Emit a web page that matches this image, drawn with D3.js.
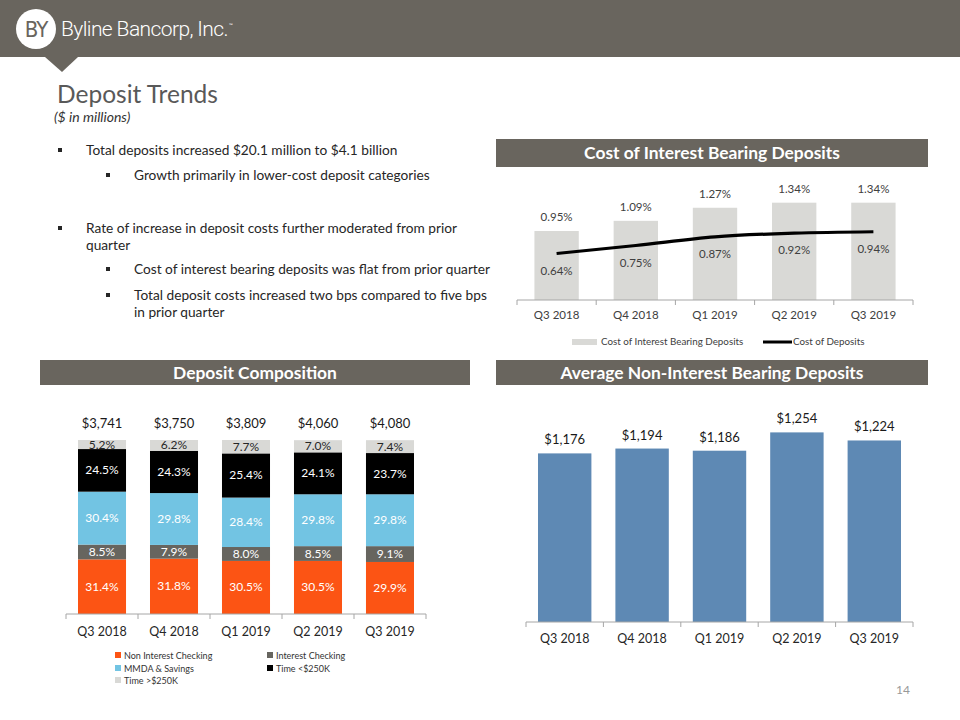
<!DOCTYPE html>
<html><head><meta charset="utf-8">
<script src="https://cdn.jsdelivr.net/npm/d3@7"></script>
<style>
body{margin:0;background:#fff;}
svg{display:block;font-family:Lato,"Open Sans",sans-serif;}
</style></head>
<body>
<svg id="c" width="960" height="720"></svg>
<script>
// ---------- DATA ----------
const quarters = ["Q3 2018","Q4 2018","Q1 2019","Q2 2019","Q3 2019"];
const costIB = [0.95,1.09,1.27,1.34,1.34];
const costDep = [0.64,0.75,0.87,0.92,0.94];
const totals = [3741,3750,3809,4060,4080];
const nonIntChecking = [31.4,31.8,30.5,30.5,29.9];
const intChecking = [8.5,7.9,8.0,8.5,9.1];
const mmda = [30.4,29.8,28.4,29.8,29.8];
const timeLt250 = [24.5,24.3,25.4,24.1,23.7];
const timeGt250 = [5.2,6.2,7.7,7.0,7.4];
const compSeries = ["Non Interest Checking","Interest Checking","MMDA & Savings","Time <$250K","Time >$250K"];
const avgNIB = [1176,1194,1186,1254,1224];
const bullets = [
  {lvl:0, lines:["Total deposits increased $20.1 million to $4.1 billion"]},
  {lvl:1, lines:["Growth primarily in lower-cost deposit categories"]},
  {lvl:0, lines:["Rate of increase in deposit costs further moderated from prior","quarter"]},
  {lvl:1, lines:["Cost of interest bearing deposits was flat from prior quarter"]},
  {lvl:1, lines:["Total deposit costs increased two bps compared to five bps","in prior quarter"]}
];

// ---------- STYLE ----------
const BAND = "#69655e";
const TXT = "#262626";
const svg = d3.select("#c");

// Header
svg.append("rect").attr("x",0).attr("y",0).attr("width",960).attr("height",57).attr("fill",BAND);
svg.append("path").attr("d","M45,57 L78,57 L62,72 Z").attr("fill",BAND);
svg.append("circle").attr("cx",36).attr("cy",29).attr("r",20).attr("fill","#fff");
svg.append("text").attr("x",36).attr("y",37).attr("text-anchor","middle").attr("font-size",22)
  .attr("fill",BAND).attr("font-family","'DejaVu Sans Condensed',sans-serif").attr("letter-spacing",-1).text("BY");
svg.append("text").attr("x",61).attr("y",36).attr("font-size",21).attr("fill","#fff")
  .attr("font-family","Roboto,sans-serif").attr("font-weight",300).attr("letter-spacing",-0.6).text("Byline Bancorp, Inc.");
svg.append("text").attr("x",229).attr("y",27).attr("font-size",5).attr("fill","#fff").text("™");

svg.append("text").attr("x",57).attr("y",103).attr("font-size",24.5).attr("fill","#595959").text("Deposit Trends");
svg.append("text").attr("x",54).attr("y",122).attr("font-size",14).attr("font-style","italic").attr("fill","#333").text("($ in millions)");

// Bullets
const bulletY = [155,180,233,274,300];
bullets.forEach((b,i)=>{
  const bx = b.lvl===0?58:106, tx = b.lvl===0?86:134;
  svg.append("rect").attr("x",bx).attr("y",bulletY[i]-7).attr("width",4).attr("height",4).attr("fill",TXT);
  b.lines.forEach((l,j)=>{
    svg.append("text").attr("x",tx).attr("y",bulletY[i]+j*17).attr("font-size",13.7).attr("fill",TXT).text(l);
  });
});

function band(x,y,w,h,label){
  svg.append("rect").attr("x",x).attr("y",y).attr("width",w).attr("height",h).attr("fill",BAND);
  svg.append("text").attr("x",x+w/2).attr("y",y+h/2+6).attr("text-anchor","middle").attr("font-size",17.4)
    .attr("font-weight",700).attr("fill","#fff").text(label);
}
band(496,139,432,28,"Cost of Interest Bearing Deposits");
band(40,360,430,25,"Deposit Composition");
band(496,360,432,25,"Average Non-Interest Bearing Deposits");

function xAxis(g, x, y0){
  const r = x.range();
  g.append("line").attr("x1",r[0]).attr("x2",r[1]).attr("y1",y0).attr("y2",y0).attr("stroke","#a6a6a6");
  const n = x.domain().length;
  for(let i=0;i<=n;i++){
    const xx = r[0]+i*(r[1]-r[0])/n;
    g.append("line").attr("x1",xx).attr("x2",xx).attr("y1",y0).attr("y2",y0+5).attr("stroke","#a6a6a6");
  }
}

// ---------- Chart 1: Cost of IB deposits ----------
{
  const g = svg.append("g");
  const x = d3.scaleBand().domain(quarters).range([517,913]).paddingInner(0.44).paddingOuter(0.22);
  const y = d3.scaleLinear().domain([0,1.6]).range([300,183.8]);
  g.selectAll("rect.b").data(costIB).join("rect").attr("x",(d,i)=>x(quarters[i])).attr("width",x.bandwidth())
    .attr("y",d=>y(d)).attr("height",d=>y(0)-y(d)).attr("fill","#d9d9d6");
  xAxis(g, x, 300);
  g.selectAll("text.bl").data(costIB).join("text").attr("x",(d,i)=>x(quarters[i])+x.bandwidth()/2)
    .attr("y",d=>y(d)-10).attr("text-anchor","middle").attr("font-size",11.5).attr("fill","#404040").text(d=>d.toFixed(2)+"%");
  const cx = i=>x(quarters[i])+x.bandwidth()/2;
  g.append("path").datum(costDep).attr("d",d3.line().x((d,i)=>cx(i)).y(d=>y(d)).curve(d3.curveMonotoneX))
    .attr("fill","none").attr("stroke","#000").attr("stroke-width",3.2);
  g.selectAll("text.ll").data(costDep).join("text").attr("x",(d,i)=>cx(i))
    .attr("y",d=>y(d)+21).attr("text-anchor","middle").attr("font-size",11.5).attr("fill","#404040").text(d=>d.toFixed(2)+"%");
  g.selectAll("text.xl").data(quarters).join("text").attr("x",d=>x(d)+x.bandwidth()/2).attr("y",319)
    .attr("text-anchor","middle").attr("font-size",11.5).attr("fill","#404040").text(d=>d);
  // legend
  g.append("rect").attr("x",572).attr("y",339).attr("width",25).attr("height",6).attr("fill","#d9d9d6");
  g.append("text").attr("x",601).attr("y",345).attr("font-size",9.8).attr("fill","#404040").text("Cost of Interest Bearing Deposits");
  g.append("line").attr("x1",763).attr("x2",792).attr("y1",342).attr("y2",342).attr("stroke","#000").attr("stroke-width",3);
  g.append("text").attr("x",793).attr("y",345).attr("font-size",9.8).attr("fill","#404040").text("Cost of Deposits");
}

// ---------- Chart 2: Deposit Composition ----------
{
  const g = svg.append("g");
  const cols = ["#fc5414","#67655f","#72c4e3","#000000","#d9d9d6"];
  const txtCols = ["#fff","#fff","#fff","#fff","#262626"];
  const seriesVals = [nonIntChecking,intChecking,mmda,timeLt250,timeGt250];
  const x = d3.scaleBand().domain(quarters).range([66,426]).paddingInner(0.333).paddingOuter(0.1667);
  const y = d3.scaleLinear().domain([0,100]).range([614,440]);
  const rows = quarters.map((q,i)=>{const o={q}; compSeries.forEach((s,k)=>o[s]=seriesVals[k][i]); return o;});
  const stack = d3.stack().keys(compSeries)(rows);
  stack.forEach((layer,k)=>{
    g.selectAll(null).data(layer).join("rect").attr("x",d=>x(d.data.q)).attr("width",x.bandwidth())
      .attr("y",d=>y(d[1])).attr("height",d=>y(d[0])-y(d[1])).attr("fill",cols[k]);
    g.selectAll(null).data(layer).join("text").attr("x",d=>x(d.data.q)+x.bandwidth()/2)
      .attr("y",d=>(y(d[0])+y(d[1]))/2+4).attr("text-anchor","middle").attr("font-size",12)
      .attr("fill",txtCols[k]).text(d=>d.data[compSeries[k]].toFixed(1)+"%");
  });
  xAxis(g, x, 614);
  g.selectAll("text.t").data(totals).join("text").attr("x",(d,i)=>x(quarters[i])+x.bandwidth()/2).attr("y",428)
    .attr("text-anchor","middle").attr("font-size",13).attr("fill","#1a1a1a").text(d=>"$"+d3.format(",")(d));
  g.selectAll("text.xl").data(quarters).join("text").attr("x",d=>x(d)+x.bandwidth()/2).attr("y",636)
    .attr("text-anchor","middle").attr("font-size",12.5).attr("fill","#262626").text(d=>d);
  const legPos = [[115,656],[267,656],[115,669],[267,669],[115,681]];
  compSeries.forEach((s,k)=>{
    g.append("rect").attr("x",legPos[k][0]).attr("y",legPos[k][1]-4).attr("width",6).attr("height",6).attr("fill",cols[k]);
    g.append("text").attr("x",legPos[k][0]+9).attr("y",legPos[k][1]+2.5).attr("font-size",9).attr("fill","#333").text(s);
  });
}

// ---------- Chart 3: Avg NIB deposits ----------
{
  const g = svg.append("g");
  const x = d3.scaleBand().domain(quarters).range([526,913]).paddingInner(0.31).paddingOuter(0.155);
  const y = d3.scaleLinear().domain([550,1300]).range([622,420]);
  g.selectAll("rect").data(avgNIB).join("rect").attr("x",(d,i)=>x(quarters[i])).attr("width",x.bandwidth())
    .attr("y",d=>y(d)).attr("height",d=>y(550)-y(d)).attr("fill","#5e89b4");
  xAxis(g, x, 622);
  g.selectAll("text.v").data(avgNIB).join("text").attr("x",(d,i)=>x(quarters[i])+x.bandwidth()/2).attr("y",d=>y(d)-9)
    .attr("text-anchor","middle").attr("font-size",13).attr("fill","#1a1a1a").text(d=>"$"+d3.format(",")(d));
  g.selectAll("text.xl").data(quarters).join("text").attr("x",d=>x(d)+x.bandwidth()/2).attr("y",643)
    .attr("text-anchor","middle").attr("font-size",12.5).attr("fill","#262626").text(d=>d);
}

svg.append("text").attr("x",903).attr("y",694).attr("text-anchor","middle").attr("font-size",12).attr("fill","#999").text("14");
</script>
</body></html>
